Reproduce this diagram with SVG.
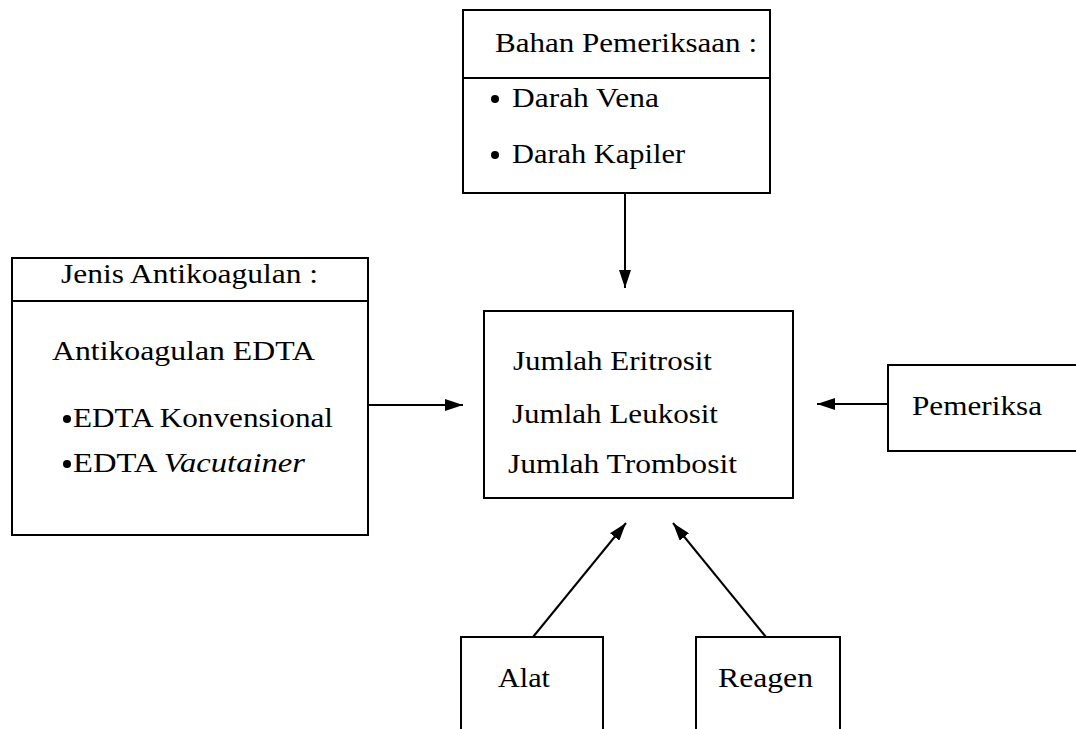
<svg xmlns="http://www.w3.org/2000/svg" width="1076" height="729" viewBox="0 0 1076 729">
<defs>
<style>
.box{fill:#fff;stroke:#000;stroke-width:2}
.ln{stroke:#000;stroke-width:2;fill:none}
.t{font-family:"Liberation Serif","Times New Roman",serif;font-size:28px;fill:#000}
.i{font-style:italic}
.con{stroke:#000;stroke-width:2;fill:none;marker-end:url(#ah)}
</style>
<marker id="ah" viewBox="0 0 18 12" refX="18" refY="6" markerWidth="18" markerHeight="12" markerUnits="userSpaceOnUse" orient="auto">
<path d="M0,0 L18,6 L0,12 Z" fill="#000"/>
</marker>
</defs>
<rect width="1076" height="729" fill="#fff"/>
<g id="bahan">
<rect class="box" x="463" y="10" width="307" height="183"/>
<line class="ln" x1="463" y1="78" x2="770" y2="78"/>
<text class="t" x="495" y="52" textLength="262" lengthAdjust="spacingAndGlyphs">Bahan Pemeriksaan :</text>
<circle cx="495" cy="99" r="4"/>
<text class="t" x="512" y="107" textLength="147" lengthAdjust="spacingAndGlyphs">Darah Vena</text>
<circle cx="495" cy="155" r="4"/>
<text class="t" x="512" y="163" textLength="173" lengthAdjust="spacingAndGlyphs">Darah Kapiler</text>
</g>
<g id="jenis">
<rect class="box" x="12" y="258" width="356" height="277"/>
<line class="ln" x1="12" y1="301" x2="368" y2="301"/>
<text class="t" x="61" y="283" textLength="257" lengthAdjust="spacingAndGlyphs">Jenis Antikoagulan :</text>
<text class="t" x="52" y="360" textLength="263" lengthAdjust="spacingAndGlyphs">Antikoagulan EDTA</text>
<circle cx="67" cy="419" r="4"/>
<text class="t" x="73" y="427" textLength="260" lengthAdjust="spacingAndGlyphs">EDTA Konvensional</text>
<circle cx="67" cy="464" r="4"/>
<text class="t" x="73" y="472" textLength="232" lengthAdjust="spacingAndGlyphs">EDTA <tspan class="i">Vacutainer</tspan></text>
</g>
<g id="jumlah">
<rect class="box" x="484" y="311" width="309" height="187"/>
<text class="t" x="513" y="370" textLength="199" lengthAdjust="spacingAndGlyphs">Jumlah Eritrosit</text>
<text class="t" x="512" y="423" textLength="206" lengthAdjust="spacingAndGlyphs">Jumlah Leukosit</text>
<text class="t" x="508" y="473" textLength="229" lengthAdjust="spacingAndGlyphs">Jumlah Trombosit</text>
</g>
<g id="pemeriksa">
<rect class="box" x="888" y="365" width="200" height="86"/>
<text class="t" x="912" y="415" textLength="130" lengthAdjust="spacingAndGlyphs">Pemeriksa</text>
</g>
<g id="alat">
<rect class="box" x="461" y="637" width="142" height="100"/>
<text class="t" x="498" y="687" textLength="52" lengthAdjust="spacingAndGlyphs">Alat</text>
</g>
<g id="reagen">
<rect class="box" x="696" y="637" width="144" height="100"/>
<text class="t" x="718" y="687" textLength="95" lengthAdjust="spacingAndGlyphs">Reagen</text>
</g>
<g id="connectors">
<line class="con" x1="625" y1="193" x2="625" y2="288"/>
<line class="con" x1="368" y1="405" x2="463" y2="405"/>
<line class="con" x1="888" y1="404" x2="817" y2="404"/>
<line class="con" x1="533" y1="637" x2="626" y2="523"/>
<line class="con" x1="766" y1="637" x2="673" y2="523"/>
</g>
</svg>
